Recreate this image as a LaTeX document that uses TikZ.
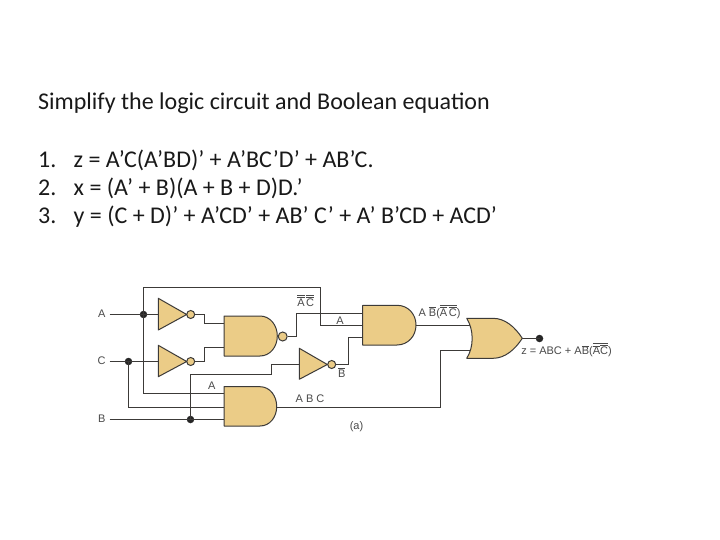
\documentclass[tikz,border=0pt]{standalone}
\usepackage{fontspec}
\setmainfont{Carlito}
\newfontfamily\lab{Liberation Sans}
\newcommand{\ob}[1]{$\overline{\hbox{#1}}$}
\definecolor{gatefill}{HTML}{EBCC87}
\definecolor{wirec}{HTML}{3C3A38}
\definecolor{labc}{HTML}{4A4A4A}
\begin{document}
\begin{tikzpicture}[x=1pt,y=-1pt,
  headline/.style={anchor=base west,inner sep=0pt,text=black!90,font=\fontsize{24}{28}\selectfont},
  wire/.style={draw=wirec,line width=1.5pt,line join=miter},
  gate/.style={draw=wirec,line width=1pt,fill=gatefill,line join=round},
  bubble/.style={circle,draw=wirec,line width=1pt,fill=gatefill,inner sep=0pt,minimum size=8pt},
  junction/.style={circle,fill=black!85,inner sep=0pt,minimum size=7.5pt},
  siglabel/.style={inner sep=0pt,text=labc,font=\lab\fontsize{11}{13}\selectfont}]
\useasboundingbox (0,0) rectangle (720,540);
\fill[white] (0,0) rectangle (720,540);
% heading text
\node[headline] (title) at (38,109.2) {Simplify the logic circuit and Boolean equation};
\node[headline] (n1) at (38,167.7) {1.};
\node[headline] (e1) at (73.5,167.7) {z = A’C(A’BD)’ + A’BC’D’ + AB’C.};
\node[headline] (n2) at (38,196) {2.};
\node[headline] (e2) at (73.5,196) {x = (A’ + B)(A + B + D)D.’};
\node[headline] (n3) at (38,223.7) {3.};
\node[headline] (e3) at (73.5,223.7) {y = (C + D)’ + A’CD’ + AB’ C’ + A’ B’CD + ACD’};
% ports
\coordinate (inA) at (109.5,314.5);
\coordinate (inC) at (109.5,361.5);
\coordinate (inB) at (109.5,419.5);
\coordinate (i1in) at (158.3,314.5);
\coordinate (i2in) at (158.3,361.5);
\coordinate (i3in) at (299.3,364.5);
\coordinate (nandA) at (224,323.5);
\coordinate (nandB) at (224,347.5);
\coordinate (andA) at (224,393.5);
\coordinate (andC) at (224,407.5);
\coordinate (andB) at (224,419.5);
\coordinate (and3a) at (362.7,313.5);
\coordinate (and3b) at (362.7,325.5);
\coordinate (and3c) at (362.7,337.5);
\coordinate (and3o) at (416,325.5);
\coordinate (andO) at (276.7,407.5);
\coordinate (orA) at (472,325.5);
\coordinate (orB) at (472,350.5);
\coordinate (orO) at (522.3,338.5);
% junctions
\node[junction] (jA) at (143.5,314.5) {};
\node[junction] (jC) at (128.5,361.5) {};
\node[junction] (jB) at (190.5,419.5) {};
\node[junction] (out) at (539.5,338.5) {};
% bubbles
\node[bubble] (b1) at (190.7,314.5) {};
\node[bubble] (b2) at (190.7,361.5) {};
\node[bubble] (b3) at (331.7,364.5) {};
\node[bubble,minimum size=9pt] (b4) at (282.7,336.5) {};
% wires
\draw[wire] (inA) -- (i1in);
\draw[wire] (inC) -- (i2in);
\draw[wire] (inB) -- (andB);
\draw[wire] (jA.center) -- (143.5,287.5) -- (320.5,287.5) -- (320.5,325.5) -- (and3b);
\draw[wire] (jA.center) -- (143.5,393.5) -- (andA);
\draw[wire] (jC.center) -- (128.5,407.5) -- (andC);
\draw[wire] (jB.center) -- (190.5,374.5) -- (271.5,374.5) -- (271.5,364.5) -- (i3in);
\draw[wire] (b1.east) -- (204.5,314.5) -- (204.5,323.5) -- (nandA);
\draw[wire] (b2.east) -- (204.5,361.5) -- (204.5,347.5) -- (nandB);
\draw[wire] (b4.east) -- (296.5,336.5) -- (296.5,313.5) -- (and3a);
\draw[wire] (b3.east) -- (348.5,364.5) -- (348.5,337.5) -- (and3c);
\draw[wire] (and3o) -- (orA);
\draw[wire] (andO) -- (440.5,407.5) -- (440.5,350.5) -- (orB);
\draw[wire] (orO) -- (out.center);
% gates
\draw[gate] (158.3,298.3) -- (186.7,314.5) -- (158.3,330) -- cycle;
\draw[gate] (158.3,345.3) -- (186.7,361.5) -- (158.3,376.7) -- cycle;
\draw[gate] (299.3,348.3) -- (327.3,364.5) -- (299.3,379.3) -- cycle;
\draw[gate] (224,316) -- (260,316) .. controls (270,316) and (277.3,325) .. (277.3,336) .. controls (277.3,347) and (270,356) .. (260,356) -- (224,356) -- cycle;
\draw[gate] (224,386.7) -- (260,386.7) .. controls (270,386.7) and (276.7,396) .. (276.7,406.5) .. controls (276.7,417) and (270,426) .. (260,426) -- (224,426) -- cycle;
\draw[gate] (362.7,305.3) -- (397,305.3) .. controls (408,305.3) and (416,314) .. (416,325) .. controls (416,336) and (408,345) .. (397,345) -- (362.7,345) -- cycle;
\draw[gate] (466.7,318.3) -- (493,318.3) .. controls (505,318.3) and (515,327) .. (522.3,338.3) .. controls (515,349.5) and (505,358.3) .. (493,358.3) -- (466.7,358.3) .. controls (474,347) and (474,330) .. (466.7,318.3) -- cycle;
% labels
\node[siglabel] (lA) at (101.7,314) {A};
\node[siglabel] (lC) at (101.7,361) {C};
\node[siglabel] (lB) at (101.7,419) {B};
\node[siglabel] (lAC) at (305.7,300.5) {\ob{\ob{A}}\kern1.5pt\ob{\ob{C}}};
\node[siglabel] (lA2) at (340,320.7) {A};
\node[siglabel] (lA3) at (211.7,385.7) {A};
\node[siglabel] (lnB) at (341.7,372.5) {\ob{B}};
\node[siglabel] (lABC) at (310,398.3) {A B C};
\node[siglabel] (lsub) at (356.5,427) {(a)};
\node[siglabel] (lmid) at (439.5,311.5) {A \ob{B}(\ob{\ob{A}\kern1.5pt\ob{C}})};
\node[siglabel] (lz) at (566.5,350) {z = ABC + A\ob{B}(\ob{\ob{A}\ob{C}})};
\end{tikzpicture}
\end{document}
